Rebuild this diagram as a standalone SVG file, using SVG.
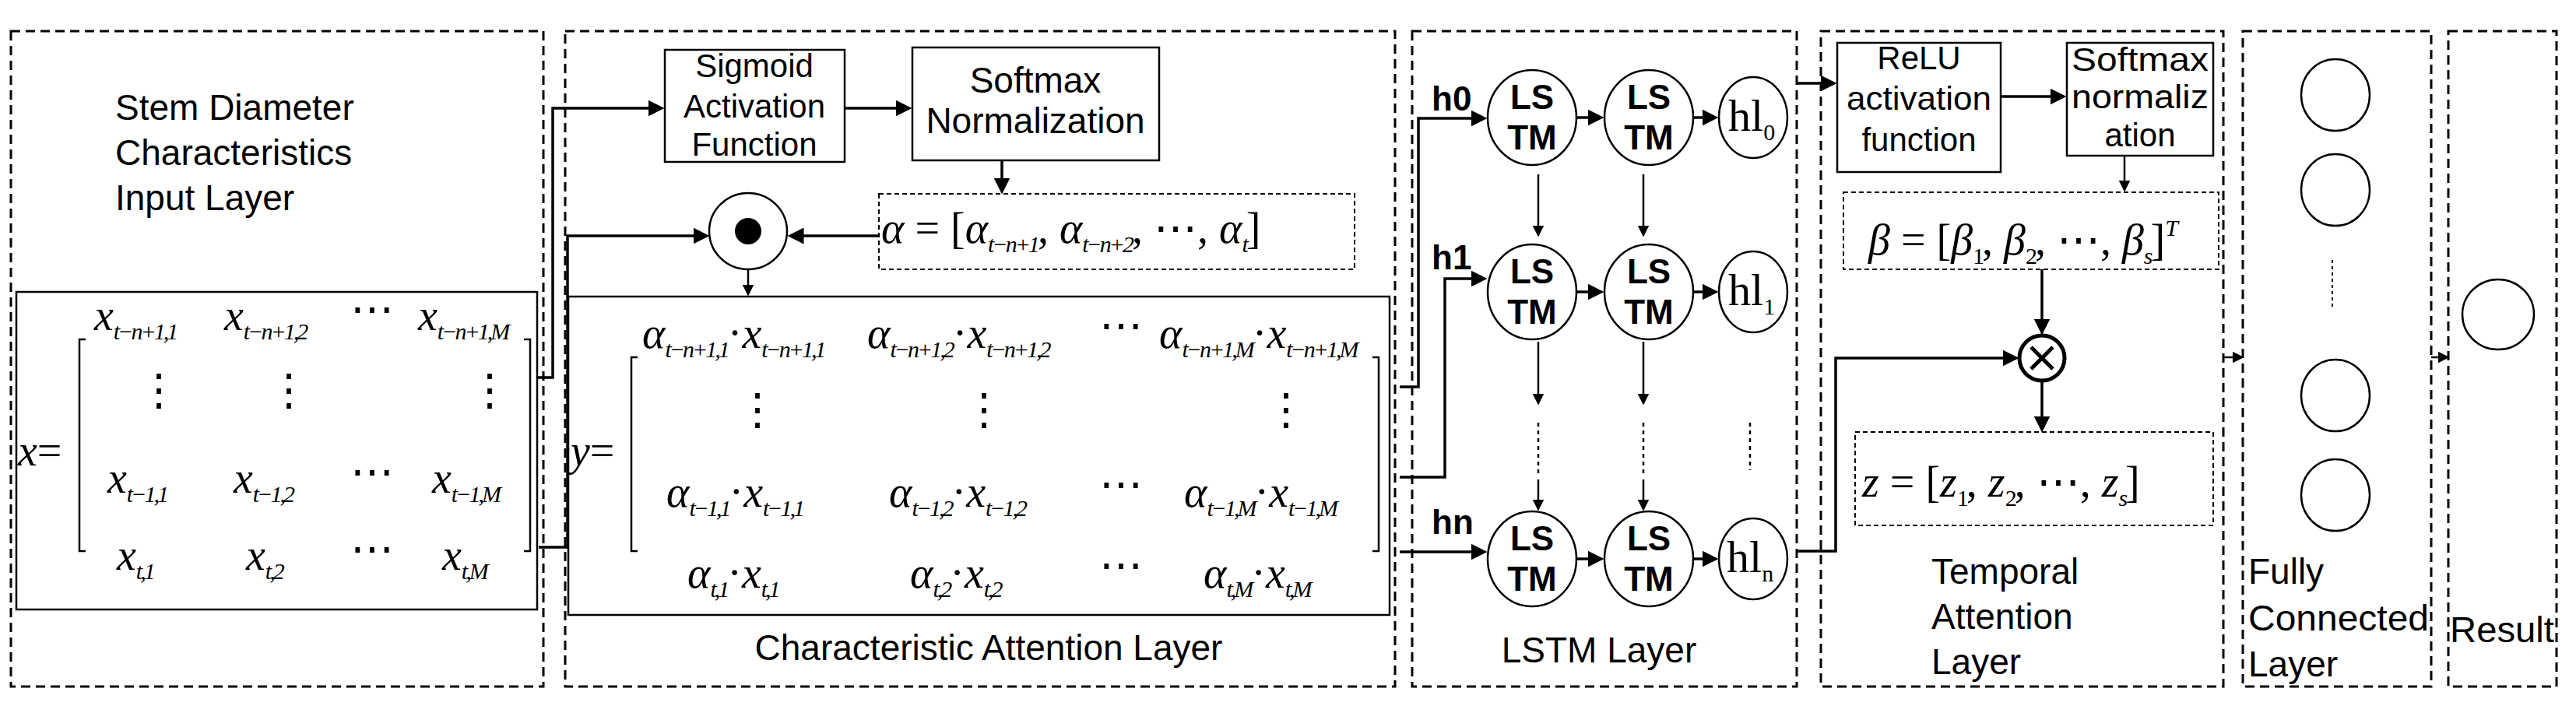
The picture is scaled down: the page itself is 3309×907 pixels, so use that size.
<svg xmlns="http://www.w3.org/2000/svg" width="3309" height="907" viewBox="0 0 3309 907">
<style>
.dash{fill:none;stroke:#000;stroke-width:3;stroke-dasharray:12,7}
.sd{fill:none;stroke:#000;stroke-width:2;stroke-dasharray:6,4}
.box{fill:#fff;stroke:#000;stroke-width:2.5}
.t{font-family:"Liberation Sans",Arial,sans-serif;font-size:46px;fill:#000}
.bx{font-size:42px}
.b{font-family:"Liberation Sans",Arial,sans-serif;font-size:44px;font-weight:bold;fill:#000}
.m{font-family:"Liberation Serif","Times New Roman",serif;font-style:italic;font-size:56px;font-weight:normal;fill:#000}
.r{font-style:normal}
.s{font-size:30px;letter-spacing:-3px}
.ln{fill:none;stroke:#000;stroke-width:3.5}
.ar{fill:none;stroke:#000;stroke-width:3.5;marker-end:url(#ah)}
.c{fill:#fff;stroke:#000;stroke-width:2.5}
</style>
<defs><marker id="ah" markerWidth="6" markerHeight="6" refX="5" refY="3" orient="auto" markerUnits="strokeWidth"><path d="M0,0 L6,3 L0,6 z" fill="#000"/></marker></defs>
<rect width="3309" height="907" fill="#fff"/>
<g id="frames">
<rect class="dash" x="14" y="40" width="684" height="842"/>
<rect class="dash" x="726" y="40" width="1066" height="842"/>
<rect class="dash" x="1814" y="40" width="494" height="842"/>
<rect class="dash" x="2339" y="40" width="517" height="842"/>
<rect class="dash" x="2881" y="40" width="242" height="842"/>
<rect class="dash" x="3145" y="40" width="139" height="842"/>
</g>
<g id="input-layer">
<text class="t" x="148" y="154">Stem Diameter</text>
<text class="t" x="148" y="212">Characteristics</text>
<text class="t" x="148" y="270">Input Layer</text>
<rect class="box" x="21" y="375" width="669" height="408"/>
<text class="m" x="23" y="598">x<tspan class="r">=</tspan></text>
<path class="ln" style="stroke-width:2.5" d="M110,436 H102 V708 H110 M673,436 H681 V708 H673"/>
<g class="m">
<text x="121" y="424">x<tspan class="s" dy="12">t−n+1,1</tspan></text>
<text x="288" y="424">x<tspan class="s" dy="12">t−n+1,2</tspan></text>
<text x="450" y="416" class="r">⋯</text>
<text x="537" y="424">x<tspan class="s" dy="12">t−n+1,M</tspan></text>
<text x="176" y="520" class="r">⋮</text><text x="343" y="520" class="r">⋮</text><text x="601" y="520" class="r">⋮</text>
<text x="138" y="633">x<tspan class="s" dy="12">t−1,1</tspan></text>
<text x="300" y="633">x<tspan class="s" dy="12">t−1,2</tspan></text>
<text x="450" y="625" class="r">⋯</text>
<text x="555" y="633">x<tspan class="s" dy="12">t−1,M</tspan></text>
<text x="150" y="732">x<tspan class="s" dy="12">t,1</tspan></text>
<text x="316" y="732">x<tspan class="s" dy="12">t,2</tspan></text>
<text x="450" y="724" class="r">⋯</text>
<text x="568" y="732">x<tspan class="s" dy="12">t,M</tspan></text>
</g>
</g>
<g id="attention-layer">
<rect class="box" x="854" y="64" width="231" height="144"/>
<text class="t bx" x="969" y="99" text-anchor="middle">Sigmoid</text>
<text class="t bx" x="969" y="151" text-anchor="middle">Activation</text>
<text class="t bx" x="969" y="200" text-anchor="middle">Function</text>
<rect class="box" x="1172" y="61" width="317" height="145"/>
<text class="t" x="1330" y="119" text-anchor="middle">Softmax</text>
<text class="t" x="1330" y="171" text-anchor="middle">Normalization</text>
<ellipse class="c" cx="961" cy="297" rx="50" ry="49"/>
<ellipse cx="961" cy="297" rx="17" ry="17" fill="#000"/>
<rect class="sd" x="1129" y="249" width="611" height="97"/>
<text class="m" x="1132" y="312">α <tspan class="r">= [</tspan>α<tspan class="s" dy="12">t−n+1</tspan><tspan dy="-12" class="r">, </tspan>α<tspan class="s" dy="12">t−n+2</tspan><tspan dy="-12" class="r">, ⋯, </tspan>α<tspan class="s" dy="12">t</tspan><tspan dy="-12" class="r">]</tspan></text>
<rect class="box" x="730" y="381" width="1055" height="409"/>
<text class="m" x="733" y="598">y<tspan class="r">=</tspan></text>
<path class="ln" style="stroke-width:2.5" d="M819,459 H811 V708 H819 M1763,459 H1771 V708 H1763"/>
<g class="m">
<text x="825" y="447">α<tspan class="s" dy="12">t−n+1,1</tspan><tspan dy="-12" class="r">·</tspan>x<tspan class="s" dy="12">t−n+1,1</tspan></text>
<text x="1114" y="447">α<tspan class="s" dy="12">t−n+1,2</tspan><tspan dy="-12" class="r">·</tspan>x<tspan class="s" dy="12">t−n+1,2</tspan></text>
<text x="1412" y="437" class="r">⋯</text>
<text x="1489" y="447">α<tspan class="s" dy="12">t−n+1,M</tspan><tspan dy="-12" class="r">·</tspan>x<tspan class="s" dy="12">t−n+1,M</tspan></text>
<text x="945" y="545" class="r">⋮</text><text x="1236" y="545" class="r">⋮</text><text x="1624" y="545" class="r">⋮</text>
<text x="856" y="651">α<tspan class="s" dy="12">t−1,1</tspan><tspan dy="-12" class="r">·</tspan>x<tspan class="s" dy="12">t−1,1</tspan></text>
<text x="1142" y="651">α<tspan class="s" dy="12">t−1,2</tspan><tspan dy="-12" class="r">·</tspan>x<tspan class="s" dy="12">t−1,2</tspan></text>
<text x="1412" y="641" class="r">⋯</text>
<text x="1521" y="651">α<tspan class="s" dy="12">t−1,M</tspan><tspan dy="-12" class="r">·</tspan>x<tspan class="s" dy="12">t−1,M</tspan></text>
<text x="883" y="755">α<tspan class="s" dy="12">t,1</tspan><tspan dy="-12" class="r">·</tspan>x<tspan class="s" dy="12">t,1</tspan></text>
<text x="1169" y="755">α<tspan class="s" dy="12">t,2</tspan><tspan dy="-12" class="r">·</tspan>x<tspan class="s" dy="12">t,2</tspan></text>
<text x="1412" y="745" class="r">⋯</text>
<text x="1546" y="755">α<tspan class="s" dy="12">t,M</tspan><tspan dy="-12" class="r">·</tspan>x<tspan class="s" dy="12">t,M</tspan></text>
</g>
<text class="t" x="1270" y="848" text-anchor="middle">Characteristic Attention Layer</text>
</g>
<g id="lstm-layer">
<g class="b">
<text x="1839" y="142">h0</text><text x="1839" y="346">h1</text><text x="1839" y="686">hn</text>
</g>
<ellipse class="c" cx="1968" cy="151" rx="57" ry="61"/><ellipse class="c" cx="2118" cy="151" rx="57" ry="61"/>
<ellipse class="c" cx="1968" cy="375" rx="57" ry="61"/><ellipse class="c" cx="2118" cy="375" rx="57" ry="61"/>
<ellipse class="c" cx="1968" cy="718" rx="57" ry="61"/><ellipse class="c" cx="2118" cy="718" rx="57" ry="61"/>
<ellipse class="c" cx="2252" cy="151" rx="44" ry="52"/><ellipse class="c" cx="2252" cy="375" rx="44" ry="52"/><ellipse class="c" cx="2252" cy="718" rx="44" ry="52"/>
<g class="b" text-anchor="middle">
<text x="1968" y="140">LS</text><text x="1968" y="192">TM</text>
<text x="2118" y="140">LS</text><text x="2118" y="192">TM</text>
<text x="1968" y="364">LS</text><text x="1968" y="416">TM</text>
<text x="2118" y="364">LS</text><text x="2118" y="416">TM</text>
<text x="1968" y="707">LS</text><text x="1968" y="759">TM</text>
<text x="2118" y="707">LS</text><text x="2118" y="759">TM</text>
</g>
<g class="m" style="font-size:58px">
<text x="2220" y="168" class="r">hl<tspan class="s" dy="12">0</tspan></text>
<text x="2220" y="392" class="r">hl<tspan class="s" dy="12">1</tspan></text>
<text x="2218" y="735" class="r">hl<tspan class="s" dy="12">n</tspan></text>
</g>
<text class="t" x="2054" y="851" text-anchor="middle">LSTM Layer</text>
</g>
<g id="temporal-layer">
<rect class="box" x="2360" y="55" width="210" height="166"/>
<text class="t bx" x="2465" y="89" text-anchor="middle">ReLU</text>
<text class="t bx" x="2465" y="141" text-anchor="middle" textLength="186" lengthAdjust="spacingAndGlyphs">activation</text>
<text class="t bx" x="2465" y="194" text-anchor="middle">function</text>
<rect class="box" x="2655" y="55" width="188" height="145"/>
<text class="t bx" x="2749" y="91" text-anchor="middle" textLength="176" lengthAdjust="spacingAndGlyphs">Softmax</text>
<text class="t bx" x="2749" y="139" text-anchor="middle" textLength="176" lengthAdjust="spacingAndGlyphs">normaliz</text>
<text class="t bx" x="2749" y="188" text-anchor="middle">ation</text>
<rect class="sd" x="2368" y="247" width="482" height="99"/>
<text class="m" x="2400" y="327">β <tspan class="r">= [</tspan>β<tspan class="s r" dy="12">1</tspan><tspan dy="-12" class="r">, </tspan>β<tspan class="s r" dy="12">2</tspan><tspan dy="-12" class="r">, ⋯, </tspan>β<tspan class="s" dy="12">s</tspan><tspan dy="-12" class="r">]</tspan><tspan class="s" dy="-24">T</tspan></text>
<circle cx="2623" cy="460" r="29" fill="#fff" stroke="#000" stroke-width="5"/>
<path d="M2609,446 L2637,474 M2637,446 L2609,474" stroke="#000" stroke-width="5"/>
<rect class="sd" x="2383" y="555" width="460" height="120"/>
<text class="m" x="2392" y="638">z <tspan class="r">= [</tspan>z<tspan class="s r" dy="12">1</tspan><tspan dy="-12" class="r">, </tspan>z<tspan class="s r" dy="12">2</tspan><tspan dy="-12" class="r">, ⋯, </tspan>z<tspan class="s" dy="12">s</tspan><tspan dy="-12" class="r">]</tspan></text>
<text class="t" x="2481" y="750">Temporal</text>
<text class="t" x="2481" y="808">Attention</text>
<text class="t" x="2481" y="866">Layer</text>
</g>
<g id="fc-layer">
<ellipse class="c" cx="3000" cy="122" rx="44" ry="46"/>
<ellipse class="c" cx="3000" cy="244" rx="44" ry="46"/>
<ellipse class="c" cx="3000" cy="508" rx="44" ry="46"/>
<ellipse class="c" cx="3000" cy="636" rx="44" ry="46"/>
<line x1="2996" y1="334" x2="2996" y2="395" stroke="#000" stroke-width="2" stroke-dasharray="4,4"/>
<text class="t" x="2888" y="750">Fully</text>
<text class="t" x="2888" y="810" textLength="232" lengthAdjust="spacingAndGlyphs">Connected</text>
<text class="t" x="2888" y="869">Layer</text>
</g>
<g id="result">
<ellipse class="c" cx="3209" cy="404" rx="46" ry="45"/>
<text class="t" x="3147" y="825" textLength="134" lengthAdjust="spacingAndGlyphs">Result</text>
</g>
<g id="connectors">
<path class="ar" d="M690,485 H710 V139 H850"/>
<path class="ar" d="M692,703 H729 V303 H908"/>
<path class="ar" d="M1085,139 H1168"/>
<path class="ar" d="M1287,206 V246"/>
<path class="ar" d="M1129,303 H1015"/>
<path class="ar" d="M961,346 V378" style="stroke-width:2.5"/>
<path class="ar" d="M1798,497 H1822 V152 H1907"/>
<path class="ar" d="M1798,613 H1856 V358 H1907"/>
<path class="ar" d="M1798,709 H1907"/>
<path class="ar" d="M2025,151 H2057"/><path class="ar" d="M2175,151 H2204"/>
<path class="ar" d="M2025,375 H2057"/><path class="ar" d="M2175,375 H2204"/>
<path class="ar" d="M2025,718 H2057"/><path class="ar" d="M2175,718 H2204"/>
<path class="ar" d="M1976,224 V302" style="stroke-width:2.5"/><path class="ar" d="M2111,224 V302" style="stroke-width:2.5"/>
<path class="ar" d="M1976,439 V518" style="stroke-width:2.5"/><path class="ar" d="M2111,439 V518" style="stroke-width:2.5"/>
<path d="M1976,543 V610 M2111,543 V610 M2248,543 V604" stroke="#000" stroke-width="2.5" stroke-dasharray="5,5"/>
<path class="ar" d="M1976,616 V654" style="stroke-width:2.5"/><path class="ar" d="M2111,616 V654" style="stroke-width:2.5"/>
<path class="ar" d="M2309,107 H2356"/>
<path class="ar" d="M2309,708 H2358 V460 H2590"/>
<path class="ar" d="M2570,124 H2651"/>
<path class="ar" d="M2729,200 V244" style="stroke-width:2.5"/>
<path class="ar" d="M2623,346 V427"/>
<path class="ar" d="M2623,490 V552"/>
<path class="ar" d="M2856,459 H2880" style="stroke-width:2.5"/>
<path class="ar" d="M3123,459 H3144" style="stroke-width:2.5"/>
</g>
</svg>
